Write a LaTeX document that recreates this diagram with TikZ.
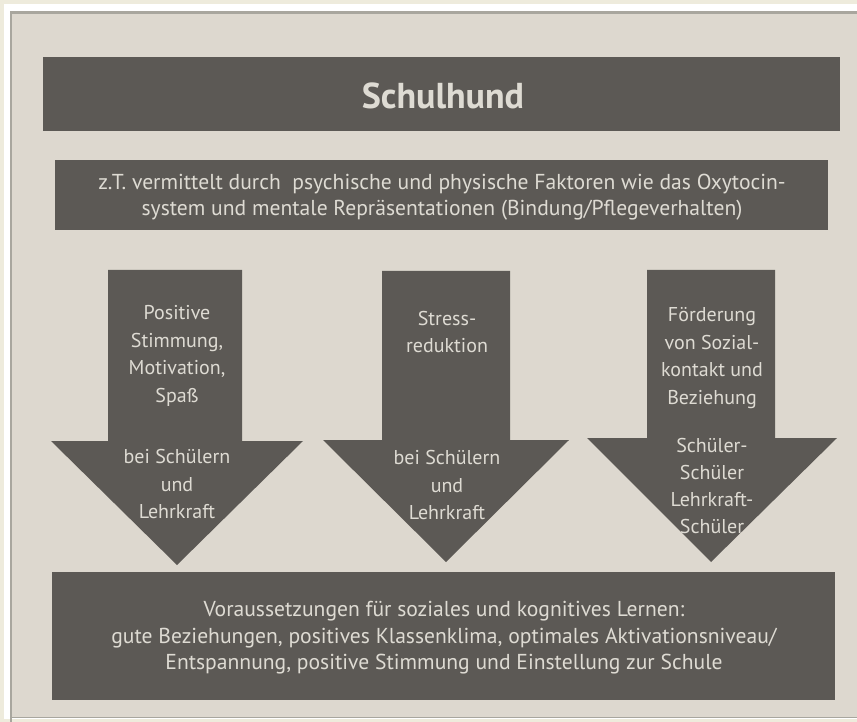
\documentclass[tikz,border=0pt]{standalone}
\usepackage{fontspec}
\setmainfont{PT Sans}
\definecolor{paper}{HTML}{DDD8CF}
\definecolor{rim}{HTML}{EEEBDC}
\definecolor{rimline}{HTML}{A8A69E}
\definecolor{boxfill}{HTML}{5C5955}
\definecolor{boxtext}{HTML}{DEDBD3}
\tikzset{
  darkbox/.style={fill=boxfill, draw=none},
  boxlabel/.style={text=boxtext, align=center, inner sep=0pt},
  arrowlabel/.style={boxlabel, font=\fontsize{20}{27.5}\selectfont},
  widelabel/.style={boxlabel, font=\fontsize{21.6}{26.5}\selectfont},
}
\begin{document}
\begin{tikzpicture}[x=1pt, y=-1pt]
  % page and thin frame
  \useasboundingbox (0,0) rectangle (857,722);
  \fill[rim] (0,0) rectangle (857,722);
  \fill[white] (4,4) rectangle (857,719);
  \fill[paper] (10,11) rectangle (857,717);
  \draw[rimline, line width=2.2pt] (11,857) -- (11,12.5) -- (857,12.5);
  \draw[rimline, line width=1pt] (10,717.5) -- (857,717.5);

  % title bar
  \fill[darkbox] (43,57) rectangle (840,131);
  \node[boxlabel, font=\fontsize{36}{40}\bfseries] (title) at (443,96) {Schulhund};

  % mediation bar
  \fill[darkbox] (55,160) rectangle (828,230);
  \node[widelabel, font=\fontsize{21.6}{26}\selectfont] (mediation) at (442,197)
    {z.T. vermittelt durch\ \ psychische und physische Faktoren wie das Oxytocin-\\
     system und mentale Repräsentationen (Bindung/Pflegeverhalten)};

  % three downward arrows
  \fill[darkbox] (108,270) -- (242,270) -- (242,441) -- (303,441) -- (177,565)
                 -- (51,441) -- (108,441) -- cycle;
  \fill[darkbox] (382,271) -- (510,271) -- (510,440) -- (569,440) -- (446,562)
                 -- (323,440) -- (382,440) -- cycle;
  \fill[darkbox] (647,270) -- (775,270) -- (775,438) -- (837,438) -- (711,562)
                 -- (587,438) -- (647,438) -- cycle;

  \node[arrowlabel] (moodA) at (177,356)
    {Positive\\ Stimmung,\\ Motivation,\\ Spaß};
  \node[arrowlabel] (moodB) at (177,484)
    {bei Schülern\\ und\\ Lehrkraft};

  \node[arrowlabel] (stressA) at (447,332)
    {Stress-\\ reduktion};
  \node[arrowlabel] (stressB) at (447,485)
    {bei Schülern\\ und\\ Lehrkraft};

  \node[arrowlabel] (socialA) at (712,358)
    {Förderung\\ von Sozial-\\ kontakt und\\ Beziehung};
  \node[arrowlabel, font=\fontsize{20}{26.7}\selectfont] (socialB) at (712,486)
    {Schüler-\\ Schüler\\ Lehrkraft-\\ Schüler};

  % result bar
  \fill[darkbox] (52,572) rectangle (835,700);
  \node[widelabel] (result) at (444,638)
    {Voraussetzungen für soziales und kognitives Lernen:\\
     gute Beziehungen, positives Klassenklima, optimales Aktivationsniveau/\\
     Entspannung, positive Stimmung und Einstellung zur Schule};
\end{tikzpicture}
\end{document}
